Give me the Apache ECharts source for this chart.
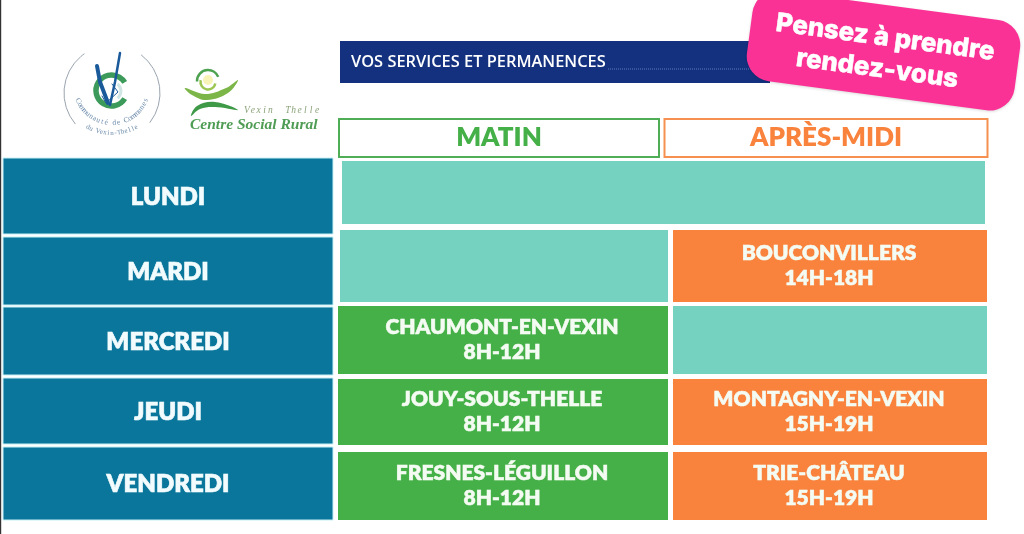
<!DOCTYPE html>
<html>
<head>
<meta charset="utf-8">
<title>Vos services et permanences</title>
<script src="https://cdn.jsdelivr.net/npm/echarts@6/dist/echarts.min.js"></script>
<style>
  html, body { margin: 0; padding: 0; background: #fff; }
  #main { width: 1024px; height: 534px; }
</style>
</head>
<body>
<div id="main"></div>
<script>
// Données du planning
var columns = ['', 'MATIN', 'APRÈS-MIDI'];
var days = ['LUNDI', 'MARDI', 'MERCREDI', 'JEUDI', 'VENDREDI'];
var morningPlaces = [null, null, 'CHAUMONT-EN-VEXIN', 'JOUY-SOUS-THELLE', 'FRESNES-LÉGUILLON'];
var morningHours = [null, null, '8H-12H', '8H-12H', '8H-12H'];
var afternoonPlaces = [null, 'BOUCONVILLERS', null, 'MONTAGNY-EN-VEXIN', 'TRIE-CHÂTEAU'];
var afternoonHours = [null, '14H-18H', null, '15H-19H', '15H-19H'];
var bannerTitle = 'VOS SERVICES ET PERMANENCES';
var reminderLines = ['Pensez à prendre', 'rendez-vous'];

var BLUE = '#0b769b', GREEN = '#45b048', ORANGE = '#f9823c', TEAL = '#76d2c0';
var FONT = 'Lato';

// petits décalages en pixels : les cases de l'original ne sont pas tout à fait alignées
var dayTop = [0, 6.6, 4.2, 2.8, -0.6], dayBottom = [3.6, 2.2, -0.2, -3.6, 0];
var cellTop = [3, -0.4, 3.2, 3.8, 4.4], cellBottom = [-6.4, -0.8, -1.2, -2.6, 0];
var colLeft = [-5.5, 2.5, 10.5], colRight = [-2.5, 5.5, -2.5];

// une ligne par case : colonne, jour, colonne de fin
var cells = [];
days.forEach(function (d, i) {
  cells.push([0, i, 0]);
  if (!morningPlaces[i] && !afternoonPlaces[i]) {
    cells.push([1, i, 2]);
  } else {
    cells.push([1, i, 1]);
    cells.push([2, i, 2]);
  }
});

function renderCell(params, api) {
  var col = api.value(0), row = api.value(1), end = api.value(2);
  var size = api.size([1, 1]);
  var c0 = api.coord([col, row]), c1 = api.coord([end, row]);
  var merged = end !== col;
  var place = col === 1 ? morningPlaces[row] : afternoonPlaces[row];
  var hours = col === 1 ? morningHours[row] : afternoonHours[row];
  var x0 = c0[0] - size[0] / 2 + (merged ? 6.5 : colLeft[col]);
  var x1 = c1[0] + size[0] / 2 + (merged ? -4.5 : colRight[end]);
  if (col === 1 && !merged && !place) x0 += 2;
  var top = col === 0 ? dayTop[row] : cellTop[row];
  var bottom = col === 0 ? dayBottom[row] : cellBottom[row];
  var y0 = c0[1] - size[1] / 2 + top;
  var y1 = c0[1] + size[1] / 2 + bottom;

  var fill = col === 0 ? BLUE : (merged || !place ? TEAL : (col === 1 ? GREEN : ORANGE));
  var children = [{
    type: 'rect',
    shape: { x: x0, y: y0, width: x1 - x0, height: y1 - y0 },
    style: col === 0 ? { fill: fill, stroke: '#c6eff4', lineWidth: 1 } : { fill: fill }
  }];
  var cx = (x0 + x1) / 2, cy = (y0 + y1) / 2;
  if (col === 0) {
    children.push({
      type: 'text',
      style: {
        x: cx, y: cy + 1, text: days[row], fill: '#f2fbfd', align: 'center', verticalAlign: 'middle',
        font: '800 24px ' + FONT, stroke: '#f2fbfd', lineWidth: 0.6
      }
    });
  } else if (place && !merged) {
    [place, hours].forEach(function (line, k) {
      children.push({
        type: 'text',
        style: {
          x: cx - 1, y: cy - 12.5 + k * 25, text: line, fill: '#f4fbf2', align: 'center', verticalAlign: 'middle',
          font: '800 21px ' + FONT, stroke: '#f4fbf2', lineWidth: 0.5
        }
      });
    });
  }
  return { type: 'group', children: children };
}

// texte courbe du logo de la communauté de communes
function curvedText(text, cx, cy, r, fromDeg, toDeg, font) {
  var out = [];
  for (var i = 0; i < text.length; i++) {
    var deg = fromDeg + (toDeg - fromDeg) * (i / (text.length - 1));
    var a = deg * Math.PI / 180;
    out.push({
      type: 'text', x: cx + r * Math.cos(a), y: cy + r * Math.sin(a), rotation: -(deg - 90) * Math.PI / 180,
      style: { text: text[i], font: font, fill: '#6d8cab', align: 'center', verticalAlign: 'middle' }
    });
  }
  return out;
}

// texte espacé lettre par lettre (Vexin Thelle)
function spacedText(text, x0, x1, y, font, color) {
  var out = [];
  for (var i = 0; i < text.length; i++) {
    out.push({
      type: 'text', x: x0 + (x1 - x0) * i / (text.length - 1), y: y,
      style: { text: text[i], font: font, fill: color, align: 'center', verticalAlign: 'middle' }
    });
  }
  return out;
}

function line(points, color, width) {
  return { type: 'polyline', shape: { points: points }, style: { stroke: color, lineWidth: width, fill: null, lineCap: 'round' } };
}

function swoosh(points, color) {
  return { type: 'polygon', shape: { points: points, smooth: 0.4 }, style: { fill: color } };
}

var deco = [
  // trait sombre du bord gauche
  { type: 'rect', shape: { x: 0, y: 0, width: 1.2, height: 534 }, style: { fill: '#333' } },
  // bandeau bleu
  { type: 'rect', shape: { x: 340, y: 41, width: 430, height: 42 }, style: { fill: '#13317f' } },
  { type: 'line', shape: { x1: 608, y1: 69, x2: 752, y2: 69 }, style: { stroke: '#5f7cc0', lineWidth: 1, lineDash: [1, 1] } },
  { type: 'text', x: 351, y: 62, style: { text: bannerTitle, font: '600 16.4px "Open Sans"', fill: '#fff', verticalAlign: 'middle' } },
  // pastille rose
  {
    type: 'group', x: 883.5, y: 50.6, rotation: -7.6 * Math.PI / 180,
    children: [
      {
        type: 'rect', shape: { x: -135, y: -45.5, width: 270, height: 91, r: 25 },
        style: { fill: '#fb3296', shadowBlur: 3, shadowColor: 'rgba(0,0,0,0.15)', shadowOffsetY: 1 }
      },
      { type: 'text', x: 0, y: -13, style: { text: reminderLines[0], font: '800 25.8px Inter', fill: '#fff', align: 'center', verticalAlign: 'middle', stroke: '#fff', lineWidth: 0.5 } },
      { type: 'text', x: -4, y: 19, style: { text: reminderLines[1], font: '800 25.8px Inter', fill: '#fff', align: 'center', verticalAlign: 'middle', stroke: '#fff', lineWidth: 0.5 } }
    ]
  },
  // logo communauté de communes
  { type: 'arc', shape: { cx: 112, cy: 93, r: 48, startAngle: 2.44, endAngle: 4.1 }, style: { stroke: '#9aa5b0', lineWidth: 1, fill: null } },
  { type: 'arc', shape: { cx: 112, cy: 93, r: 48, startAngle: -0.92, endAngle: 0.67 }, style: { stroke: '#9aa5b0', lineWidth: 1, fill: null } },
  { type: 'arc', shape: { cx: 111.5, cy: 90.5, r: 15.5, startAngle: 0.55, endAngle: -0.55 }, style: { stroke: '#3c9a5a', lineWidth: 5.5, fill: null } },
  { type: 'arc', shape: { cx: 112, cy: 91, r: 9, startAngle: -0.9, endAngle: 0.9 }, style: { stroke: '#cfe6e4', lineWidth: 3, fill: null } },
  line([[97, 66], [100, 82], [108, 103]], '#1a5a9a', 4),
  line([[120, 53], [115, 82], [110, 105]], '#1a5a9a', 2.5),
  line([[102, 96], [106, 103], [118, 92], [112, 84]], '#1a5a9a', 1),
  // logo centre social
  { type: 'arc', shape: { cx: 208, cy: 81, r: 11, startAngle: 3.1, endAngle: 5.9 }, style: { stroke: '#4da24f', lineWidth: 2.5, fill: null } },
  { type: 'arc', shape: { cx: 208, cy: 82, r: 7.5, startAngle: 0.2, endAngle: 3.4 }, style: { stroke: '#9cc652', lineWidth: 2.5, fill: null } },
  { type: 'circle', shape: { cx: 208, cy: 80, r: 5 }, style: { fill: '#f8f4b8' } },
  swoosh([[185, 88], [205, 94], [226, 88], [238, 80], [228, 93], [207, 100], [192, 95]], '#7cb548'),
  swoosh([[191, 116], [197, 106], [215, 102], [238, 110], [215, 107], [200, 109]], '#3f9a48'),
  { type: 'text', x: 190, y: 125, style: { text: 'Centre Social Rural', font: 'italic bold 15.5px "Liberation Serif"', fill: '#4f9c54', verticalAlign: 'middle' } }
]
  .concat(spacedText('Vexin  Thelle', 247, 317, 110, 'italic 9.5px "Liberation Serif"', '#8aa37a'))
  .concat(curvedText('Communauté de Communes', 112, 86.5, 36.5, 157, 22, '7.5px "Liberation Serif"'))
  .concat(curvedText('du Vexin-Thelle', 112, 80, 53, 117, 63, '7px "Liberation Serif"'));

var myChart = echarts.init(document.getElementById('main'));
var option = {
  backgroundColor: '#fff',
  animation: false,
  grid: { left: 8.5, top: 158, width: 981, height: 362 },
  xAxis: {
    type: 'category',
    position: 'top',
    data: columns,
    axisLine: { show: false },
    axisTick: { show: false },
    splitLine: { show: false },
    axisLabel: {
      interval: 0,
      margin: 1,
      formatter: function (v, i) { return v ? '{p' + i + '|' + v + '}' : ''; },
      rich: {
        p1: { width: 320, height: 38, align: 'center', fontFamily: FONT, fontWeight: 800, fontSize: 26, color: GREEN, borderColor: '#4fae55', borderWidth: 2 },
        p2: { width: 323, height: 38, align: 'center', fontFamily: FONT, fontWeight: 800, fontSize: 26, color: ORANGE, borderColor: '#f59050', borderWidth: 2 }
      }
    }
  },
  yAxis: {
    type: 'category',
    inverse: true,
    data: days,
    axisLine: { show: false },
    axisTick: { show: false },
    axisLabel: { show: false },
    splitLine: { show: false }
  },
  series: [{
    type: 'custom',
    renderItem: renderCell,
    encode: { x: 0, y: 1 },
    data: cells,
    silent: true
  }],
  graphic: deco
};
myChart.setOption(option);
</script>
</body>
</html>
